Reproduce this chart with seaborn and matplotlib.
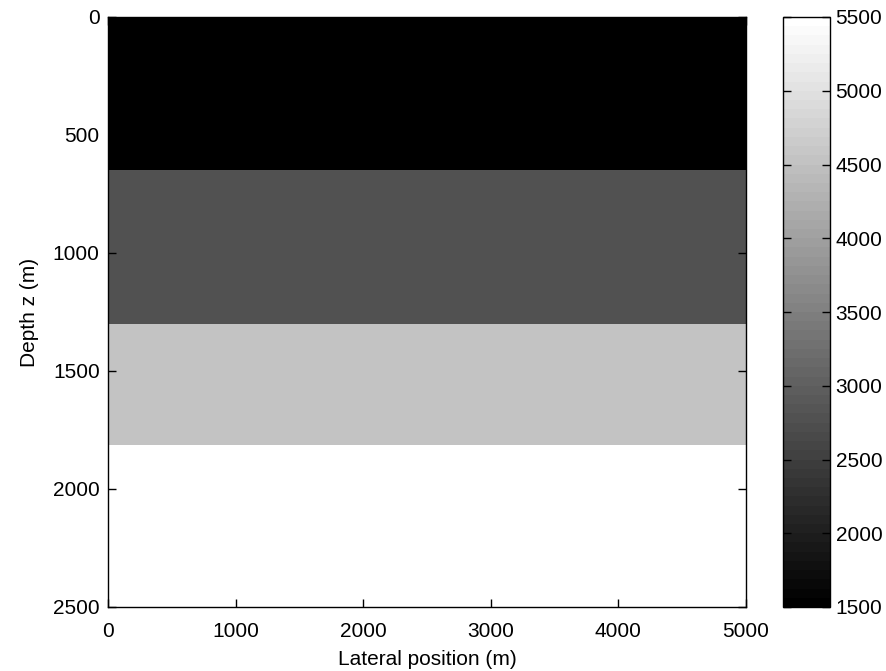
import numpy as np
import matplotlib
matplotlib.use("Agg")
import matplotlib.pyplot as plt
from matplotlib.colors import ListedColormap
import seaborn as sns

# ------------- layered velocity model -------------
layer_tops = [0, 650, 1300, 1815]          # depth of each layer top (m)
velocities = [1500, 2800, 4500, 5500]      # velocity of each layer (m/s)
x_max = 5000
z_max = 2500
dx = 50
dz = 5

x_ticks = [0, 1000, 2000, 3000, 4000, 5000]
z_ticks = [0, 500, 1000, 1500, 2000, 2500]
cbar_ticks = [1500, 2000, 2500, 3000, 3500, 4000, 4500, 5000, 5500]

# build the grid from the layer table
z_cells = np.arange(0, z_max, dz) + dz / 2
n_x = x_max // dx
idx = np.searchsorted(layer_tops, z_cells, side="right") - 1
model = np.repeat(np.array(velocities)[idx][:, None], n_x, axis=1)

sns.set_theme(style="ticks")
plt.rcParams["font.family"] = ["Liberation Sans", "DejaVu Sans"]
plt.rcParams["axes.axisbelow"] = False
fs = 15

# matlab-like 64 level gray map
colormap = ListedColormap(plt.cm.gray(np.linspace(0, 1, 64)))

fig = plt.figure(figsize=(8.87, 6.71), dpi=100)
ax = fig.add_axes([108 / 887, 64 / 671, 638 / 887, 590 / 671])
cax = fig.add_axes([783 / 887, 64 / 671, 47 / 887, 590 / 671])

sns.heatmap(model, cmap=colormap, vmin=1500, vmax=5500, ax=ax, cbar_ax=cax,
            xticklabels=False, yticklabels=False, rasterized=True)

# ticks over the image, not under it
ax.set_axisbelow(False)
cax.set_axisbelow(False)

ax.set_xticks(np.array(x_ticks) / dx)
ax.set_xticklabels(x_ticks, fontsize=fs, color="black")
ax.set_yticks(np.array(z_ticks) / dz)
ax.set_yticklabels(z_ticks, fontsize=fs, color="black", rotation=0)
ax.xaxis.set_ticks_position("both")
ax.yaxis.set_ticks_position("both")
ax.tick_params(axis="x", direction="in", length=6, width=1, colors="black", pad=11)
ax.tick_params(axis="y", direction="in", length=6, width=1, colors="black", pad=6)
for axis in ["top", "bottom", "left", "right"]:
    ax.spines[axis].set_visible(True)
    ax.spines[axis].set_linewidth(1)
    ax.spines[axis].set_color("black")

ax.set_xlabel("Lateral position (m)", fontsize=fs, color="black", labelpad=6)
ax.set_ylabel("Depth z (m)", fontsize=fs, color="black", labelpad=10)

cbar = ax.collections[0].colorbar
cbar.set_ticks(cbar_ticks)
cbar.set_ticklabels([str(t) for t in cbar_ticks])
cbar.outline.set_linewidth(1)
cbar.outline.set_edgecolor("black")
cax.yaxis.set_ticks_position("both")
cax.tick_params(direction="in", length=6, width=1, labelsize=fs,
                colors="black", pad=4, labelright=True, labelleft=False)

fig.savefig("out.png", dpi=100)
